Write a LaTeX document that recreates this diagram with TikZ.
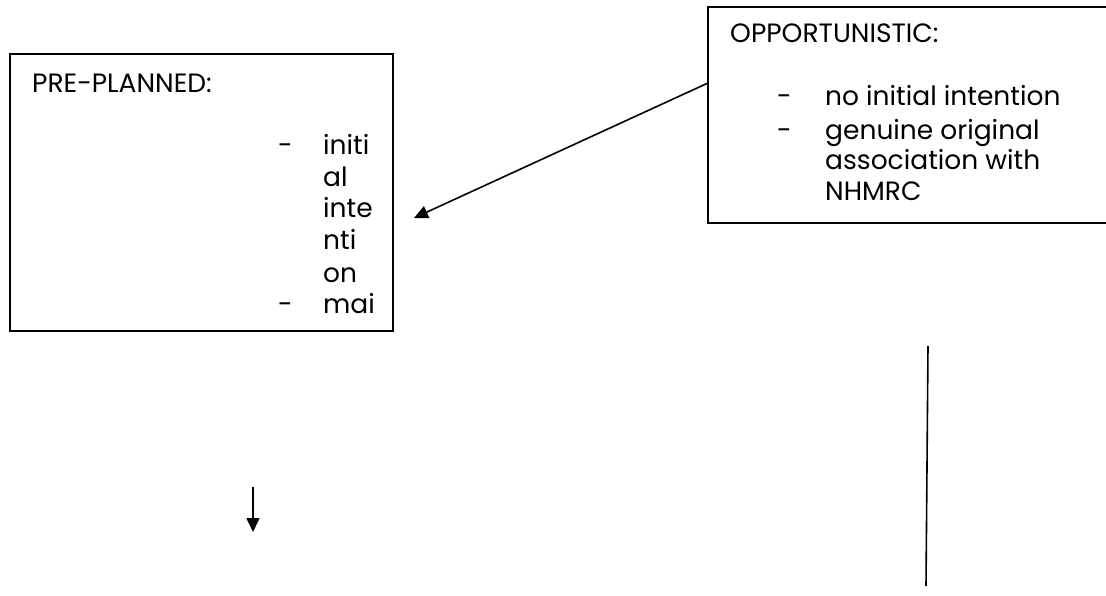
\documentclass[tikz,border=0pt]{standalone}
\usepackage{fontspec}
\setmainfont{Poppins}
\usetikzlibrary{arrows.meta}
\tikzset{
  box/.style={draw, line width=1.6pt, inner sep=0pt},
  txt/.style={anchor=base west, inner sep=0pt, font=\fontsize{26.5}{30}\selectfont},
  conn/.style={line width=1.6pt},
  arr/.style={conn, -{Triangle[length=14pt,width=13pt]}}
}
\begin{document}
\begin{tikzpicture}[x=1pt,y=-1pt]
\useasboundingbox (0,0) rectangle (1106,596);
% boxes
\draw[box] (10,54) rectangle (393,331);
\draw[box] (1110,7) -- (708,7) -- (708,223) -- (1110,223);
% left texts
\node[txt] (preT) at (32,93) {PRE-PLANNED:};
\node[txt] (b1) at (278,155) {-};
\node[txt] (l1) at (323,155) {initi};
\node[txt] (l2) at (323,187) {al};
\node[txt] (l3) at (323,218) {inte};
\node[txt] (l4) at (323,250) {nti};
\node[txt] (l5) at (323,282) {on};
\node[txt] (b2) at (278,313) {-};
\node[txt] (l6) at (323,313) {mai};
% right texts
\node[txt] (oppT) at (730,43) {OPPORTUNISTIC:};
\node[txt] (rb1) at (777,106) {-};
\node[txt] (r1) at (825,106) {no initial intention};
\node[txt] (rb2) at (777,140) {-};
\node[txt] (r2) at (825,140) {genuine original};
\node[txt] (r3) at (825,170) {association with};
\node[txt] (r4) at (825,201) {NHMRC};
% connectors
\coordinate (oppW) at (708,83);
\coordinate (preTip) at (414,218);
\draw[arr] (oppW) -- (preTip);
\coordinate (dA) at (253,487);
\coordinate (dB) at (253,532);
\draw[arr] (dA) -- (dB);
\coordinate (vA) at (928,346);
\coordinate (vB) at (926,586);
\draw[conn] (vA) -- (vB);
\end{tikzpicture}
\end{document}
